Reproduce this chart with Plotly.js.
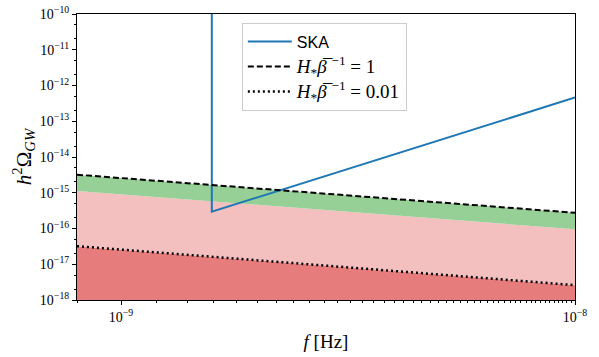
<!DOCTYPE html>
<html>
<head>
<meta charset="utf-8">
<script src="https://cdn.plot.ly/plotly-3.0.1.min.js"></script>
<style>
  html, body { margin: 0; padding: 0; background: #fff; }
  #chart { width: 599px; height: 357px; }
</style>
</head>
<body>
<div id="chart"></div>
<script>
// frequency range of the bands (Hz)
var fBand = [8e-10, 1e-8];

// SKA sensitivity curve
var skaF = [1.585e-9, 1.585e-9, 1e-8];
var skaH = [1e-6, 2.95e-16, 4.6e-13];

// H* beta^-1 = 1 (dashed) and 0.01 (dotted)
var dashedH = [3.2e-15, 2.75e-16];
var dottedH = [3.2e-17, 2.6e-18];
// lower edge of the green band
var greenLowH = [1.12e-15, 9.5e-17];
var floorH = [1e-18, 1e-18];

var yTicks = [1e-18, 1e-17, 1e-16, 1e-15, 1e-14, 1e-13, 1e-12, 1e-11, 1e-10];
var yTickText = yTicks.map(function (v) {
  return '10<sup>\u2212' + Math.round(-Math.log10(v)) + '</sup>';
});
var xTicks = [1e-9, 1e-8];
var xTickText = ['10<sup>\u22129</sup>', '10<sup>\u22128</sup>'];

var serif = 'Liberation Serif';

function mathName(rhs) {
  return '<span style="font-family:Liberation Serif;font-size:19px"><i>H</i><sub>*</sub><i>β\u0305</i>' +
    ' <sup>\u22121</sup> = ' + rhs + '</span>';
}

var bands = [
  { x: fBand, y: floorH, mode: 'lines', line: { width: 0 }, showlegend: false, hoverinfo: 'skip' },
  { x: fBand, y: dottedH, mode: 'lines', line: { width: 0 }, fill: 'tonexty',
    fillcolor: 'rgb(230,124,124)', showlegend: false, hoverinfo: 'skip' },
  { x: fBand, y: greenLowH, mode: 'lines', line: { width: 0 }, fill: 'tonexty',
    fillcolor: 'rgb(243,191,191)', showlegend: false, hoverinfo: 'skip' },
  { x: fBand, y: dashedH, mode: 'lines', line: { width: 0 }, fill: 'tonexty',
    fillcolor: 'rgb(151,208,150)', showlegend: false, hoverinfo: 'skip' }
];

var lines = [
  { x: skaF, y: skaH, mode: 'lines',
    name: '<span style="font-family:Liberation Sans;font-size:16px">SKA</span>',
    line: { color: '#1f77b4', width: 2 } },
  { x: fBand, y: dashedH, mode: 'lines', name: mathName('1'),
    line: { color: 'black', width: 2, dash: '6px,3px' } },
  { x: fBand, y: dottedH, mode: 'lines', name: mathName('0.01'),
    line: { color: 'black', width: 2.5, dash: '2px,3px' } }
];

var layout = {
  width: 599,
  height: 357,
  margin: { l: 77, r: 24, t: 14, b: 57 },
  paper_bgcolor: 'white',
  plot_bgcolor: 'white',
  font: { family: serif, color: 'black', size: 13 },
  showlegend: true,
  legend: {
    x: 0.331, y: 0.969, xanchor: 'left', yanchor: 'top',
    traceorder: 'normal',
    bgcolor: 'white', bordercolor: '#cccccc', borderwidth: 1,
    font: { family: serif, size: 17 },
    itemwidth: 44,
    tracegroupgap: 0
  },
  xaxis: {
    type: 'log',
    range: [Math.log10(fBand[0]), Math.log10(fBand[1])],
    tickvals: xTicks, ticktext: xTickText,
    ticks: 'outside', ticklen: 4, tickcolor: 'black',
    minor: { ticks: 'outside', ticklen: 2, tickcolor: 'black', showgrid: false },
    showgrid: false, zeroline: false,
    showline: true, linecolor: 'black', linewidth: 1, mirror: true,
    tickfont: { family: serif, size: 14 },
    title: { text: '<i>f</i> [Hz]', font: { family: serif, size: 19 }, standoff: 10 }
  },
  yaxis: {
    type: 'log',
    range: [-18, -10],
    tickvals: yTicks, ticktext: yTickText,
    ticks: 'outside', ticklen: 4, tickcolor: 'black',
    minor: { ticks: 'outside', ticklen: 2, tickcolor: 'black', showgrid: false },
    showgrid: false, zeroline: false,
    showline: true, linecolor: 'black', linewidth: 1, mirror: true,
    tickfont: { family: serif, size: 14 },
    title: { text: '<i>h</i><sup>2</sup>Ω<sub><i>GW</i></sub>', font: { family: serif, size: 21 }, standoff: 2 }
  }
};

Plotly.newPlot('chart', bands.concat(lines), layout, { displayModeBar: false, staticPlot: true });
</script>
</body>
</html>
